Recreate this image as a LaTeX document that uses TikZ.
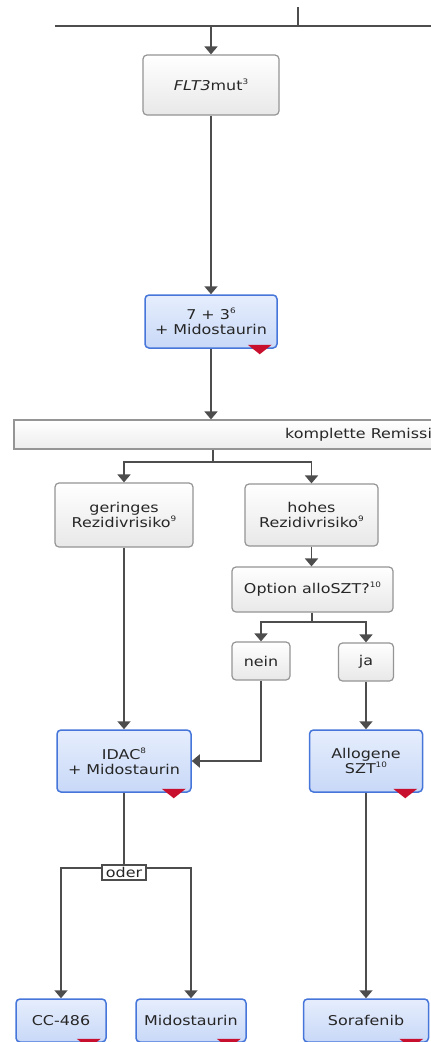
\documentclass[tikz,border=0pt]{standalone}
\usepackage{fontspec}
\setmainfont{DejaVu Sans}[FakeStretch=1.18]
\usetikzlibrary{arrows.meta}
\definecolor{linecol}{HTML}{4D4D4D}
\definecolor{boxgray}{HTML}{959595}
\definecolor{graybot}{HTML}{E8E8E8}
\definecolor{bluetop}{HTML}{E6EEFD}
\definecolor{bluebot}{HTML}{C8D8F7}
\definecolor{blueline}{HTML}{4676DA}
\definecolor{redtri}{HTML}{C8102E}
\definecolor{txt}{HTML}{262626}
\newcommand\supr[1]{\raisebox{0.8ex}{\fontsize{7.5}{7.5}\selectfont #1}}
\newcommand\redmark[1]{\fill[redtri] ([xshift=-6pt,yshift=4pt]#1.south east) -- ++(-24,0) -- ++(12,9.5) -- cycle;}
\begin{document}
\begin{tikzpicture}[x=1pt,y=-1pt,
  every node/.style={font=\fontsize{13.5}{15}\selectfont, text=txt, align=center, inner sep=0pt},
  graybox/.style={draw=boxgray, line width=1.2pt, rounded corners=4pt, top color=white, bottom color=graybot},
  bluebox/.style={draw=blueline, line width=1.5pt, rounded corners=4pt, top color=bluetop, bottom color=bluebot},
  conn/.style={draw=linecol, line width=1.8pt},
  arr/.style={conn, -{Triangle[length=8pt,width=13pt]}},
  oderbox/.style={draw=linecol, line width=1.2pt, fill=white, inner xsep=2pt, minimum width=44pt, minimum height=15pt}
]
\useasboundingbox (0,0) rectangle (431,1042);
\clip (0,0) rectangle (431,1042);
\fill[white] (0,0) rectangle (431,1042);

% nodes
\node[graybox, minimum width=136pt, minimum height=60pt] (flt) at (211,85) {\textit{FLT3}mut\supr{3}};
\node[bluebox, minimum width=132pt, minimum height=53pt] (s73) at (211,321.5) {7 + 3\supr{6}\\+ Midostaurin};
\node[draw=boxgray, line width=1.2pt, top color=white, bottom color=graybot!80, minimum width=440pt, minimum height=29pt] (bar) at (234,434.5) {};
\node[anchor=west] (bartext) at (285,434.5) {komplette Remission};
\node[graybox, minimum width=138pt, minimum height=64pt] (ger) at (124,515) {geringes\\Rezidivrisiko\supr{9}};
\node[graybox, minimum width=133pt, minimum height=62pt] (hoh) at (311.5,515) {hohes\\Rezidivrisiko\supr{9}};
\node[graybox, minimum width=161pt, minimum height=45pt] (opt) at (312.5,589.5) {Option alloSZT?\supr{10}};
\node[graybox, minimum width=58pt, minimum height=38pt] (nein) at (261,661) {nein};
\node[graybox, minimum width=55pt, minimum height=38pt] (ja) at (366,662) {ja};
\node[bluebox, minimum width=134pt, minimum height=62pt] (idac) at (124,761) {IDAC\supr{8}\\+ Midostaurin};
\node[bluebox, minimum width=113pt, minimum height=62pt] (allo) at (366,761) {Allogene\\SZT\supr{10}};
\node[bluebox, minimum width=90pt, minimum height=43pt] (cc) at (61,1020.5) {CC-486};
\node[bluebox, minimum width=110pt, minimum height=43pt] (mido) at (191,1020.5) {Midostaurin};
\node[bluebox, minimum width=125pt, minimum height=43pt] (sora) at (366,1020.5) {Sorafenib};

\redmark{s73}
\redmark{idac}
\redmark{allo}
\redmark{cc}
\redmark{mido}
\redmark{sora}

% coordinates
\coordinate (topv) at (298,7);
\coordinate (topL) at (55,26);
\coordinate (topR) at (440,26);
\coordinate (split1) at (213,462);
\coordinate (split2) at (312,622);
\coordinate (split3) at (124,868);

% connectors
\draw[conn] (topv) -- (topv |- topL);
\draw[conn] (topL) -- (topR);
\draw[arr] (flt.north |- topL) -- (flt.north);
\draw[arr] (flt.south) -- (s73.north);
\draw[arr] (s73.south) -- (s73.south |- bar.north);
\draw[conn] (split1 |- bar.south) -- (split1);
\draw[arr] (split1) -| (ger.north);
\draw[arr] (split1) -| (hoh.north);
\draw[arr] (hoh.south) -- (opt.north -| hoh.south);
\draw[conn] (opt.south -| split2) -- (split2);
\draw[arr] (split2) -| (nein.north);
\draw[arr] (split2) -| (ja.north);
\draw[arr] (nein.south) |- (idac.east);
\draw[arr] (ger.south) -- (idac.north);
\draw[arr] (ja.south) -- (allo.north);
\draw[arr] (allo.south) -- (sora.north);
\draw[arr] (split3) -| (cc.north);
\draw[arr] (split3) -| (mido.north);
\node[oderbox] (oder) at (124,872.5) {oder};
\draw[conn] (idac.south) -- (oder.north);
\end{tikzpicture}
\end{document}
